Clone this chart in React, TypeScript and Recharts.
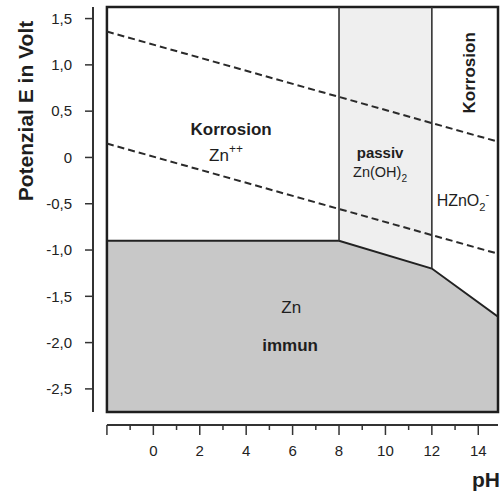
import React from "react";
import {
  ComposedChart,
  XAxis,
  YAxis,
  Area,
  Line,
  ReferenceArea,
  ReferenceLine,
  ReferenceDot,
} from "recharts";

const FONT = "'Liberation Sans', Arial, Helvetica, sans-serif";
const INK = "#1e1e1e";

// axis ticks
const phTicks = [-2, -1, 0, 1, 2, 3, 4, 5, 6, 7, 8, 9, 10, 11, 12, 13, 14];
const voltTicks = [-2.5, -2, -1.5, -1, -0.5, 0, 0.5, 1, 1.5];

// frame of the diagram (pH / volt)
const PH_MIN = -2;
const PH_MAX = 14.85;
const E_MIN = -2.75;
const E_MAX = 1.625;
// axes sit a little away from the frame
const AXIS_PH_MIN = -2.6;
const AXIS_E_MIN = -2.89;

// Zn / immun border
const immunPH = [-2, 8, 12, 14.85];
const immunE = [-0.9, -0.9, -1.2, -1.72];

// Zn(OH)2 passive range
const passivPH = [8, 12];
const passivE = [-0.9, -1.2];

// water stability lines (dashed)
const waterPH = [-2, 14.85];
const oxygenE = [1.36, 0.17];
const hydrogenE = [0.15, -1.04];

const toPoints = (xs: number[], ys: number[]) =>
  xs.map((pH, i) => ({ pH, E: ys[i] }));

const immunData = toPoints(immunPH, immunE);
const passivData = toPoints(passivPH, passivE);
const oxygenData = toPoints(waterPH, oxygenE);
const hydrogenData = toPoints(waterPH, hydrogenE);
const wallLeft = toPoints([passivPH[0], passivPH[0]], [passivE[0], E_MAX]);
const wallRight = toPoints([passivPH[1], passivPH[1]], [passivE[1], E_MAX]);

type Part = [string, ("b" | "n" | "sup" | "sub")?];
type Note = { pH: number; E: number; size: number; parts: Part[]; rotate?: boolean };

const notes: Note[] = [
  { pH: 3.35, E: 0.245, size: 17, parts: [["Korrosion", "b"]] },
  { pH: 3.13, E: -0.037, size: 17, parts: [["Zn"], ["++", "sup"]] },
  { pH: 9.77, E: -0.005, size: 15, parts: [["passiv", "b"]] },
  { pH: 9.77, E: -0.21, size: 14.5, parts: [["Zn(OH)"], ["2", "sub"]] },
  { pH: 13.86, E: 0.914, size: 17, parts: [["Korrosion", "b"]], rotate: true },
  { pH: 13.34, E: -0.52, size: 16, parts: [["HZnO"], ["2", "sub"], ["-", "sup"]] },
  { pH: 5.94, E: -1.68, size: 17, parts: [["Zn"]] },
  { pH: 5.89, E: -2.09, size: 17, parts: [["immun", "b"]] },
];

function NoteText({ cx, cy, note }: any) {
  let shift = 0;
  return (
    <text
      x={cx}
      y={cy}
      textAnchor="middle"
      fill={INK}
      fontFamily={FONT}
      fontSize={note.size}
      transform={note.rotate ? `rotate(-90 ${cx} ${cy})` : undefined}
    >
      {note.parts.map(([t, kind]: Part, i: number) => {
        let dy = 0;
        let size = note.size;
        if (kind === "sup") {
          dy = -8 - shift;
          shift = -8;
          size = note.size * 0.7;
        } else if (kind === "sub") {
          dy = 5 - shift;
          shift = 5;
          size = note.size * 0.7;
        } else if (shift) {
          dy = -shift;
          shift = 0;
        }
        return (
          <tspan key={i} dy={dy} fontSize={size} fontWeight={kind === "b" ? "bold" : "normal"}>
            {t}
          </tspan>
        );
      })}
    </text>
  );
}

function PhTick({ x, y, payload }: any) {
  const v = payload.value;
  const major = v % 2 === 0;
  return (
    <g>
      <line x1={x} x2={x} y1={y} y2={y + (major ? 10 : 5)} stroke="#333" strokeWidth={1.5} />
      {major && v >= 0 && (
        <text x={x} y={y + 31} textAnchor="middle" fill="#222" fontSize={15} fontFamily={FONT}>
          {v}
        </text>
      )}
    </g>
  );
}

const fmtVolt = (v: number) => (v === 0 ? "0" : v.toFixed(1).replace(".", ","));

export default function App() {
  return (
    <div style={{ position: "absolute", left: 0, top: 0, width: 500, height: 492, overflow: "hidden", background: "#fff" }}>
      <ComposedChart width={500} height={492} margin={{ top: 7, right: 2, bottom: 0, left: 0 }}>
        <XAxis
          type="number"
          dataKey="pH"
          domain={[AXIS_PH_MIN, PH_MAX]}
          allowDataOverflow
          ticks={phTicks}
          interval={0}
          height={67}
          axisLine={false}
          tickLine={false}
          tickSize={0}
          tickMargin={0}
          tick={<PhTick />}
          label={(props: any) => {
            const vb = props.viewBox;
            return (
              <text x={vb.x + vb.width - 26} y={vb.y + 62} fontSize={21} fontWeight="bold" fill={INK} fontFamily={FONT}>
                pH
              </text>
            );
          }}
        />
        <YAxis
          type="number"
          dataKey="E"
          domain={[AXIS_E_MIN, E_MAX]}
          allowDataOverflow
          ticks={voltTicks}
          interval={0}
          width={93}
          axisLine={false}
          tickLine={{ stroke: "#333", strokeWidth: 1.5 }}
          tickSize={8}
          tickMargin={13}
          tickFormatter={fmtVolt}
          tick={{ fontSize: 15, fill: "#222", fontFamily: FONT }}
          label={(props: any) => {
            const vb = props.viewBox;
            const x = vb.x + 33;
            const y = vb.y + 104;
            return (
              <text
                x={x}
                y={y}
                textAnchor="middle"
                transform={`rotate(-90 ${x} ${y})`}
                fontSize={21}
                fontWeight="bold"
                fill={INK}
                fontFamily={FONT}
              >
                Potenzial E in Volt
              </text>
            );
          }}
        />

        <Area
          data={passivData}
          dataKey="E"
          type="linear"
          baseValue="dataMax"
          fill="#efefef"
          fillOpacity={1}
          stroke="none"
          isAnimationActive={false}
        />
        <Area
          data={immunData}
          dataKey="E"
          type="linear"
          baseValue={E_MIN}
          fill="#c8c8c8"
          fillOpacity={1}
          stroke="#222"
          strokeWidth={2}
          isAnimationActive={false}
        />
        <Line data={wallLeft} dataKey="E" type="linear" stroke="#333" strokeWidth={1.6} dot={false} activeDot={false} isAnimationActive={false} />
        <Line data={wallRight} dataKey="E" type="linear" stroke="#333" strokeWidth={1.6} dot={false} activeDot={false} isAnimationActive={false} />
        <Line data={oxygenData} dataKey="E" type="linear" stroke="#2a2a2a" strokeWidth={2} strokeDasharray="7 4" dot={false} activeDot={false} isAnimationActive={false} />
        <Line data={hydrogenData} dataKey="E" type="linear" stroke="#2a2a2a" strokeWidth={2} strokeDasharray="7 4" dot={false} activeDot={false} isAnimationActive={false} />

        <ReferenceArea x1={PH_MIN} x2={PH_MAX} y1={E_MIN} y2={E_MAX} fill="none" stroke={INK} strokeWidth={2.5} />
        <ReferenceLine segment={[{ x: AXIS_PH_MIN, y: E_MIN }, { x: AXIS_PH_MIN, y: E_MAX }]} stroke="#333" strokeWidth={2} />
        <ReferenceLine segment={[{ x: PH_MIN, y: AXIS_E_MIN }, { x: PH_MAX, y: AXIS_E_MIN }]} stroke="#333" strokeWidth={2} />

        {notes.map((n, i) => (
          <ReferenceDot
            key={i}
            x={n.pH}
            y={n.E}
            r={0}
            shape={(p: any) => <NoteText cx={p.cx} cy={p.cy} note={n} />}
          />
        ))}
      </ComposedChart>
    </div>
  );
}
